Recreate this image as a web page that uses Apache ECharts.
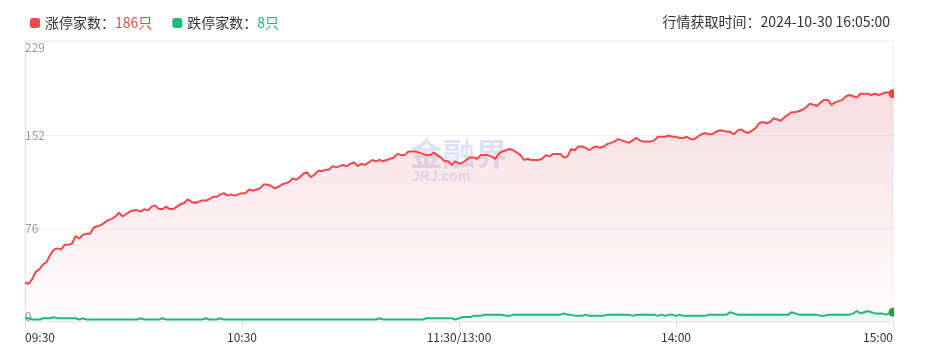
<!DOCTYPE html>
<html><head><meta charset="utf-8">
<script src="https://cdn.jsdelivr.net/npm/echarts@6/dist/echarts.min.js"></script>
<style>html,body{margin:0;padding:0;background:#fff}#c{width:925px;height:359px}</style>
</head><body><div id="c"></div>
<script>
const upCount = 186;
const downCount = 8;
const fetchTime = '2024-10-30 16:05:00';
const tickLabels = ['09:30', '10:30', '11:30/13:00', '14:00', '15:00'];
const yTicks = [0, 76, 152, 229];

// minute categories 09:30-11:30 and 13:01-15:00 (11:30 and 13:00 share one slot)
function hm(t) { const h = Math.floor(t / 60), m = t % 60; return (h < 10 ? '0' : '') + h + ':' + (m < 10 ? '0' : '') + m; }
const categories = [];
for (let m = 0; m <= 120; m++) categories.push(m === 120 ? '11:30/13:00' : hm(570 + m));
for (let m = 1; m <= 120; m++) categories.push(hm(780 + m));

const limitUp = [
  32,31,35,41,43,47,49,55,59,60,
  59,63,63,64,70,68,71,72,72,77,
  78,79,81,83,84,86,89,86,88,90,
  91,91,90,92,91,94,95,92,92,94,
  92,92,94,96,97,100,98,97,98,99,
  99,100,102,102,104,105,103,104,103,104,
  105,105,108,107,108,109,112,112,111,109,
  110,112,113,114,117,116,118,121,122,118,
  120,123,123,124,124,127,126,127,128,127,
  129,130,127,129,128,130,132,131,132,131,
  132,133,134,137,136,136,139,139,139,138,
  137,136,136,138,136,134,131,131,128,131,
  129,130,132,134,134,133,136,136,136,135,
  133,137,139,140,141,140,138,136,132,133,
  132,132,132,133,136,135,137,137,137,134,
  135,141,140,143,143,142,140,142,143,142,
  143,145,146,147,149,148,147,146,148,150,
  148,147,147,147,148,151,151,151,152,151,
  151,150,150,151,149,149,151,153,154,153,
  153,155,156,156,155,155,153,156,157,155,
  154,156,158,162,163,162,163,166,165,164,
  167,169,171,171,172,173,175,178,177,176,
  179,181,181,177,179,180,181,184,185,184,
  183,186,186,186,185,186,185,186,187,187,
  186
];

const limitDown = [
  3,3,2,2,2,3,3,3,4,3,
  3,3,3,3,3,2,3,2,2,2,
  2,2,2,2,2,2,2,2,2,2,
  2,2,3,2,2,2,2,2,3,2,
  2,2,2,2,2,2,2,2,2,2,
  3,2,2,2,3,2,2,2,2,2,
  2,2,2,2,2,2,2,2,2,2,
  2,2,2,2,2,2,2,2,2,2,
  2,2,2,2,2,2,2,2,2,2,
  2,2,2,2,2,2,2,2,3,2,
  2,2,2,2,2,2,2,2,2,2,
  2,3,3,3,3,3,3,3,3,2,
  3,4,4,4,5,5,5,6,6,6,
  6,6,6,5,5,6,6,6,6,6,
  6,6,6,6,6,6,6,6,6,7,
  6,6,5,5,5,6,5,5,5,5,
  5,6,6,6,6,6,6,6,5,6,
  6,6,6,6,6,5,6,5,6,6,
  5,6,5,5,5,5,5,5,5,6,
  6,6,6,6,6,8,7,6,6,6,
  6,6,6,6,6,6,6,6,6,6,
  6,6,8,7,6,6,6,6,6,6,
  5,5,6,6,6,6,6,6,6,7,
  9,7,8,9,8,7,7,7,6,7,
  8
];

const FONT = '"Noto Sans CJK SC", "Microsoft YaHei", sans-serif';
const RED = '#f5474b';
const GREEN = '#1fb97a';
const lastIdx = categories.length - 1;

const chart = echarts.init(document.getElementById('c'));
chart.setOption({
  animation: false,
  backgroundColor: '#fff',
  title: {
    text: '行情获取时间：' + fetchTime,
    right: 30, top: 10,
    textStyle: { fontSize: 14, fontWeight: 'normal', color: '#333', fontFamily: FONT }
  },
  legend: {
    left: 25, top: 11, itemWidth: 10, itemHeight: 10, icon: 'roundRect', itemGap: 20,
    selectedMode: false,
    data: [{ name: '涨停家数', itemStyle: { color: RED } }, { name: '跌停家数', itemStyle: { color: GREEN } }],
    formatter: function (name) {
      return name === '涨停家数' ? '{t|' + name + '：}{r|' + upCount + '只}' : '{t|' + name + '：}{g|' + downCount + '只}';
    },
    textStyle: {
      fontSize: 14, color: '#333', fontFamily: FONT,
      rich: {
        t: { fontSize: 14, color: '#333', fontFamily: FONT },
        r: { fontSize: 14, color: RED, fontFamily: FONT },
        g: { fontSize: 14, color: GREEN, fontFamily: FONT }
      }
    }
  },
  grid: { left: 25, right: 32, top: 41, bottom: 37, show: true, borderColor: '#ececec', borderWidth: 1 },
  xAxis: {
    type: 'category', data: categories, boundaryGap: false,
    axisLine: { show: false },
    axisTick: { show: true, interval: function (i, v) { return tickLabels.indexOf(v) >= 0; }, length: 5, lineStyle: { color: '#d9d9d9' } },
    axisLabel: {
      interval: function (i, v) { return tickLabels.indexOf(v) >= 0; },
      color: '#333', fontSize: 12, margin: 9, fontFamily: FONT,
      alignMinLabel: 'left', alignMaxLabel: 'right'
    },
    splitLine: { show: false }
  },
  yAxis: {
    type: 'value', min: yTicks[0], max: yTicks[yTicks.length - 1],
    axisLine: { show: true, lineStyle: { color: '#e6e6e6' } },
    axisTick: { show: false, customValues: yTicks },
    axisLabel: {
      inside: true, margin: 0, color: '#999', fontSize: 12, fontFamily: FONT,
      customValues: yTicks,
      verticalAlignMinLabel: 'bottom', verticalAlignMaxLabel: 'top'
    },
    splitLine: { lineStyle: { color: '#f0f0f0' } }
  },
  graphic: [
    {
      type: 'group', left: 410, top: 138, z: 1,
      children: [
        { type: 'text', x: 0, y: 0, scaleX: 1.05, style: { text: '金融界', font: 'bold 31px "Noto Sans CJK SC"', fill: 'rgba(165,180,225,0.38)' } },
        { type: 'text', x: 2, y: 32, style: { text: 'JRJ.com', font: 'bold 14px "Liberation Sans"', fill: 'rgba(165,180,225,0.38)' } }
      ]
    },
    { type: 'rect', z: 100, shape: { x: 894, y: 35, width: 31, height: 292 }, style: { fill: '#fff' } }
  ],
  series: [
    {
      name: '涨停家数', type: 'line', data: limitUp, symbol: 'none', z: 3,
      lineStyle: { color: RED, width: 2 }, itemStyle: { color: RED },
      areaStyle: {
        color: new echarts.graphic.LinearGradient(0, 0, 0, 1, [
          { offset: 0, color: 'rgba(228,140,158,0.42)' },
          { offset: 1, color: 'rgba(228,140,158,0.03)' }
        ])
      },
      markPoint: { symbol: 'circle', symbolSize: 9, label: { show: false }, itemStyle: { color: RED },
        data: [{ coord: [lastIdx, limitUp[lastIdx]] }] }
    },
    {
      name: '跌停家数', type: 'line', data: limitDown, symbol: 'none', z: 4,
      lineStyle: { color: GREEN, width: 2 }, itemStyle: { color: GREEN },
      areaStyle: {
        color: new echarts.graphic.LinearGradient(0, 0, 0, 1, [
          { offset: 0, color: 'rgba(31,185,122,0.16)' },
          { offset: 1, color: 'rgba(31,185,122,0.06)' }
        ])
      },
      markPoint: { symbol: 'circle', symbolSize: 9, label: { show: false }, itemStyle: { color: '#2a9d3a' },
        data: [{ coord: [lastIdx, limitDown[lastIdx]] }] }
    }
  ]
});
</script>
</body></html>
